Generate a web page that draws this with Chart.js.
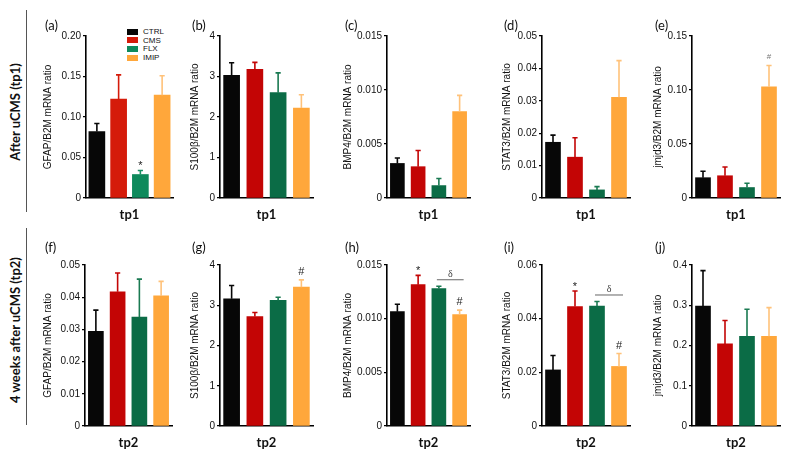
<!DOCTYPE html>
<html>
<head>
<meta charset="utf-8">
<script src="https://cdn.jsdelivr.net/npm/chart.js@4.4.1/dist/chart.umd.min.js"></script>
<style>
  body { margin: 0; background: #fff; width: 788px; height: 454px; position: relative; overflow: hidden; font-family: 'Liberation Sans', Arial, sans-serif; }
  canvas { position: absolute; }
  .row-label { position: absolute; font: bold 13px Lato, 'Open Sans', sans-serif; color: #111; white-space: nowrap; transform: translate(-50%, -50%) rotate(-90deg); }
  .vline { position: absolute; left: 26px; width: 1px; background: #555; }
  .plabel { position: absolute; font: 13px Lato, 'Open Sans', sans-serif; color: #111; transform: translateY(-50%); }
  .legend { position: absolute; left: 127px; top: 28px; font: 8px 'Liberation Sans', Arial, sans-serif; color: #111; }
  .legend div { height: 8.7px; line-height: 8.7px; white-space: nowrap; }
  .legend span { display: inline-block; width: 11px; height: 6px; margin-right: 5px; vertical-align: -0.5px; }
</style>
</head>
<body>

<div class="vline" style="top:10px;height:202px"></div>
<div class="vline" style="top:228px;height:197px"></div>
<div class="row-label" style="left:15px;top:112px">After uCMS (tp1)</div>
<div class="row-label" style="left:15px;top:330px">4 weeks after uCMS (tp2)</div>

<div class="legend" id="legend"></div>

<script>
// ---- data ----
const groups = ['CTRL', 'CMS', 'FLX', 'IMIP'];

// tp1: after uCMS
const gfapTp1 = [0.082, 0.122, 0.029, 0.127];
const gfapTp1Sem = [0.010, 0.030, 0.005, 0.024];
const s100Tp1 = [3.03, 3.18, 2.60, 2.22];
const s100Tp1Sem = [0.31, 0.17, 0.49, 0.33];
const bmp4Tp1 = [0.0032, 0.0029, 0.00115, 0.0080];
const bmp4Tp1Sem = [0.0005, 0.0015, 0.00065, 0.0015];
const stat3Tp1 = [0.0172, 0.0126, 0.0025, 0.0311];
const stat3Tp1Sem = [0.0022, 0.0060, 0.0010, 0.0113];
const jmjd3Tp1 = [0.0188, 0.0206, 0.0097, 0.103];
const jmjd3Tp1Sem = [0.0060, 0.0081, 0.0039, 0.0197];

// tp2: 4 weeks after uCMS
const gfapTp2 = [0.0294, 0.0417, 0.0338, 0.0404];
const gfapTp2Sem = [0.0066, 0.0058, 0.0118, 0.0045];
const s100Tp2 = [3.16, 2.72, 3.12, 3.45];
const s100Tp2Sem = [0.33, 0.10, 0.08, 0.18];
const bmp4Tp2 = [0.01065, 0.01317, 0.0128, 0.01038];
const bmp4Tp2Sem = [0.0007, 0.00086, 0.00022, 0.00042];
const stat3Tp2 = [0.0209, 0.0445, 0.0447, 0.0222];
const stat3Tp2Sem = [0.0054, 0.0058, 0.0017, 0.0048];
const jmjd3Tp2 = [0.298, 0.204, 0.223, 0.223];
const jmjd3Tp2Sem = [0.088, 0.058, 0.067, 0.071];

// y tick labels
const ticksGfap1 = ['0', '0.05', '0.10', '0.15', '0.20'];
const ticksS100 = ['0', '1', '2', '3', '4'];
const ticksBmp4 = ['0', '0.005', '0.010', '0.015'];
const ticksStat3Tp1 = ['0', '0.01', '0.02', '0.03', '0.04', '0.05'];
const ticksJmjd3Tp1 = ['0', '0.05', '0.10', '0.15'];
const ticksGfap2 = ['0', '0.01', '0.02', '0.03', '0.04', '0.05'];
const ticksStat3Tp2 = ['0', '0.02', '0.04', '0.06'];
const ticksJmjd3Tp2 = ['0', '0.1', '0.2', '0.3', '0.4'];

// significance marks per group
const marksGfap1 = ['', '', '*', ''];
const marksJmjd31 = ['', '', '', '#'];
const marksS1002 = ['', '', '', '#'];
const marksBmp42 = ['', '*', '', '#'];
const marksStat32 = ['', '*', '', '#'];

// ---- colours ----
const barColors = ['#070707', '#c30505', '#0b6c46', '#ffa73b'];
const barColorsA = ['#070707', '#d51b0a', '#0e8a5c', '#ffa73b'];
const errColors = ['#070707', '#c30505', '#1a7a52', '#ffc27a'];
const errColorsA = ['#070707', '#d51b0a', '#1a9064', '#ffc27a'];

// legend
document.getElementById('legend').innerHTML = groups.map((g, i) =>
  `<div><span style="background:${barColorsA[i]}"></span>${g}</div>`).join('');

// ---- panels ----
const panels = [
  { letter: '(a)', title: 'GFAP/B2M mRNA ratio', vals: gfapTp1, sem: gfapTp1Sem, ticks: ticksGfap1, max: 0.20, step: 0.05,
    tp: 'tp1', left: 42, axisW: 44, plot: 87, bar: 16, marks: marksGfap1, bright: true },
  { letter: '(b)', title: 'S100β/B2M mRNA ratio', vals: s100Tp1, sem: s100Tp1Sem, ticks: ticksS100, max: 4, step: 1,
    tp: 'tp1', left: 189, axisW: 31, plot: 93, bar: 16 },
  { letter: '(c)', title: 'BMP4/B2M mRNA ratio', vals: bmp4Tp1, sem: bmp4Tp1Sem, ticks: ticksBmp4, max: 0.015, step: 0.005,
    tp: 'tp1', left: 342, axisW: 45, plot: 83, bar: 14 },
  { letter: '(d)', title: 'STAT3/B2M mRNA ratio', vals: stat3Tp1, sem: stat3Tp1Sem, ticks: ticksStat3Tp1, max: 0.05, step: 0.01,
    tp: 'tp1', left: 501, axisW: 41, plot: 88, bar: 15 },
  { letter: '(e)', title: 'jmjd3/B2M mRNA ratio', vals: jmjd3Tp1, sem: jmjd3Tp1Sem, ticks: ticksJmjd3Tp1, max: 0.15, step: 0.05,
    tp: 'tp1', left: 652, axisW: 40, plot: 88, bar: 15, marks: marksJmjd31, smallMarks: true },

  { letter: '(f)', title: 'GFAP/B2M mRNA ratio', vals: gfapTp2, sem: gfapTp2Sem, ticks: ticksGfap2, max: 0.05, step: 0.01,
    tp: 'tp2', left: 42, axisW: 43, plot: 87, bar: 15 },
  { letter: '(g)', title: 'S100β/B2M mRNA ratio', vals: s100Tp2, sem: s100Tp2Sem, ticks: ticksS100, max: 4, step: 1,
    tp: 'tp2', left: 189, axisW: 31, plot: 93, bar: 16, marks: marksS1002 },
  { letter: '(h)', title: 'BMP4/B2M mRNA ratio', vals: bmp4Tp2, sem: bmp4Tp2Sem, ticks: ticksBmp4, max: 0.015, step: 0.005,
    tp: 'tp2', left: 342, axisW: 45, plot: 83, bar: 14, marks: marksBmp42, bracket: [2, 3] },
  { letter: '(i)', title: 'STAT3/B2M mRNA ratio', vals: stat3Tp2, sem: stat3Tp2Sem, ticks: ticksStat3Tp2, max: 0.06, step: 0.02,
    tp: 'tp2', left: 501, axisW: 41, plot: 88, bar: 15, marks: marksStat32, bracket: [2, 3] },
  { letter: '(j)', title: 'jmjd3/B2M mRNA ratio', vals: jmjd3Tp2, sem: jmjd3Tp2Sem, ticks: ticksJmjd3Tp2, max: 0.4, step: 0.1,
    tp: 'tp2', left: 652, axisW: 40, plot: 88, bar: 15 },
];

// error bars, significance marks and the delta bracket
const annotations = {
  id: 'annotations',
  afterDatasetsDraw(chart, args, opts) {
    const p = opts.panel;
    const { ctx } = chart;
    const yScale = chart.scales.y;
    const bars = chart.getDatasetMeta(0).data;
    const errs = p.bright ? errColorsA : errColors;
    const tops = [];

    ctx.save();
    bars.forEach((bar, i) => {
      const top = yScale.getPixelForValue(p.vals[i] + p.sem[i]);
      tops.push(top);
      ctx.strokeStyle = errs[i];
      ctx.lineWidth = 1.6;
      ctx.beginPath();
      ctx.moveTo(bar.x, bar.y);
      ctx.lineTo(bar.x, top);
      ctx.moveTo(bar.x - 2.6, top);
      ctx.lineTo(bar.x + 2.6, top);
      ctx.stroke();
    });

    if (p.marks) {
      ctx.textAlign = 'center';
      ctx.textBaseline = 'alphabetic';
      p.marks.forEach((m, i) => {
        if (!m) return;
        if (p.smallMarks) {
          ctx.fillStyle = '#777';
          ctx.font = '8px "Liberation Sans", Arial';
          ctx.fillText(m, bars[i].x, tops[i] - 6);
        } else if (m === '*') {
          ctx.fillStyle = '#222';
          ctx.font = '11px "Liberation Sans", Arial';
          ctx.fillText(m, bars[i].x, tops[i] - 1);
        } else {
          ctx.fillStyle = '#222';
          ctx.font = '11px "Liberation Sans", Arial';
          ctx.fillText(m, bars[i].x, tops[i] - 5);
        }
      });
    }

    if (p.bracket) {
      const [a, b] = p.bracket;
      const y = Math.min(tops[a], tops[b]) - 6.5;
      const x1 = bars[a].x - 2, x2 = bars[b].x + 4;
      ctx.strokeStyle = '#666';
      ctx.lineWidth = 1;
      ctx.beginPath();
      ctx.moveTo(x1, y);
      ctx.lineTo(x2, y);
      ctx.stroke();
      ctx.fillStyle = '#444';
      ctx.font = '10px "Liberation Serif", serif';
      ctx.textAlign = 'center';
      ctx.fillText('δ', (x1 + x2) / 2, y - 3);
    }
    ctx.restore();
  }
};

panels.forEach((p, idx) => {
  const row2 = idx >= 5;
  const top = row2 ? 257 : 28;
  const height = row2 ? 194 : 195;
  const width = p.axisW + p.plot + 2;

  const canvas = document.createElement('canvas');
  canvas.width = width;
  canvas.height = height;
  canvas.style.left = p.left + 'px';
  canvas.style.top = top + 'px';
  document.body.appendChild(canvas);

  const label = document.createElement('div');
  label.className = 'plabel';
  label.textContent = p.letter;
  label.style.left = (p.left + 3) + 'px';
  label.style.top = (row2 ? 247 : 25) + 'px';
  document.body.appendChild(label);

  new Chart(canvas, {
    type: 'bar',
    data: {
      labels: groups,
      datasets: [{
        data: p.vals,
        backgroundColor: p.bright ? barColorsA : barColors,
        borderWidth: 0,
        barThickness: p.bar,
      }],
    },
    options: {
      responsive: false,
      animation: false,
      layout: { padding: { top: 5, right: 2, left: 0, bottom: 0 } },
      plugins: {
        legend: { display: false },
        tooltip: { enabled: false },
        annotations: { panel: p },
      },
      scales: {
        x: {
          offset: true,
          ticks: { display: false },
          grid: { display: false },
          border: { display: true, color: '#000', width: 1.6 },
          title: {
            display: true,
            text: p.tp,
            color: '#111',
            font: { family: 'Lato, "Open Sans", sans-serif', weight: 'bold', size: 13 },
            padding: 0,
          },
          afterFit: s => { s.height = 25; },
        },
        y: {
          min: 0,
          max: p.max,
          ticks: {
            stepSize: p.step,
            autoSkip: false,
            padding: 2,
            color: '#111',
            font: { family: '"Liberation Sans", Arial, sans-serif', size: 10 },
            callback: (v, i) => p.ticks[i],
          },
          grid: { display: true, drawOnChartArea: false, drawTicks: true, tickLength: 3, color: '#000', lineWidth: 1.2 },
          border: { display: true, color: '#000', width: 1.6 },
          title: {
            display: true,
            text: p.title,
            color: '#111',
            font: { family: '"Liberation Sans", Arial, sans-serif', size: 10 },
            padding: { top: 0, bottom: 0 },
          },
          afterFit: s => { s.width = p.axisW; },
        },
      },
    },
    plugins: [annotations],
  });
});
</script>
</body>
</html>
